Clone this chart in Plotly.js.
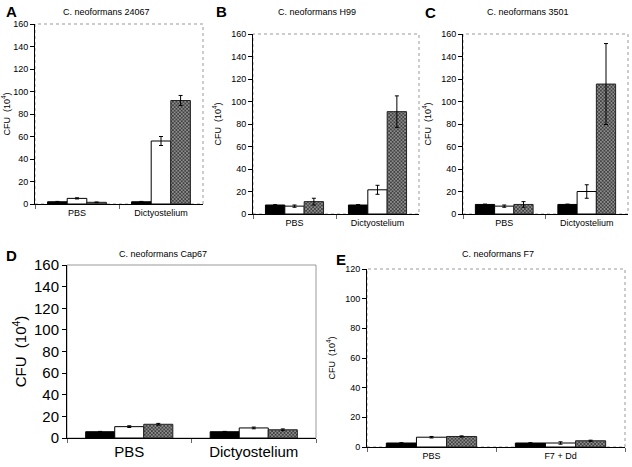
<!DOCTYPE html>
<html><head><meta charset="utf-8">
<script src="https://cdn.plot.ly/plotly-3.0.1.min.js"></script>
<style>html,body{margin:0;padding:0;background:#fff}#chart{width:632px;height:467px}</style>
</head><body><div id="chart"></div>
<script>
// ---- data ----
const categoriesAD = ['PBS', 'Dictyostelium'];
const categoriesE = ['PBS', 'F7 + Dd'];
const panelTitles = ['C. neoformans 24067', 'C. neoformans H99', 'C. neoformans 3501', 'C. neoformans Cap67', 'C. neoformans F7'];
const panelLetters = ['A', 'B', 'C', 'D', 'E'];

const aBlack = [2, 2],     aBlackErr = [0.3, 0.3];
const aWhite = [5, 56],    aWhiteErr = [0.5, 4];
const aHatch = [1.5, 92],  aHatchErr = [0.3, 4.5];

const bBlack = [8, 8],     bBlackErr = [0.3, 0.4];
const bWhite = [7, 21.5],  bWhiteErr = [1, 4];
const bHatch = [11, 91],   bHatchErr = [3, 14];

const cBlack = [8.5, 8.5], cBlackErr = [0.3, 0.3];
const cWhite = [7, 20],    cWhiteErr = [1, 6];
const cHatch = [8.5, 115.5], cHatchErr = [2.5, 36];

const dBlack = [5.8, 5.8], dBlackErr = [0.3, 0.3];
const dWhite = [10.5, 9.3], dWhiteErr = [0.8, 0.8];
const dHatch = [12.7, 7.6], dHatchErr = [0.8, 0.8];

const eBlack = [2.7, 2.7], eBlackErr = [0.2, 0.2];
const eWhite = [6.6, 2.7], eWhiteErr = [0.5, 0.8];
const eHatch = [7.1, 4.2], eHatchErr = [0.4, 0.4];

const yTicksABCD = [0, 20, 40, 60, 80, 100, 120, 140, 160];
const yTicksE = [0, 20, 40, 60, 80, 100, 120];

// ---- layout helpers (pixels -> paper) ----
const W = 632, H = 467;
const px = (a, b) => [a / W, b / W];
const py = (top, bottom) => [1 - bottom / H, 1 - top / H];

const panels = [
  {cats: categoriesAD, k: [aBlack, aBlackErr], w: [aWhite, aWhiteErr], h: [aHatch, aHatchErr], x: px(35, 203), y: py(24, 204), ymax: 160, ticks: yTicksABCD, fs: 9, tfs: 9, titleX: 106, titleY: 12, letX: 4, letY: 12, big: false},
  {cats: categoriesAD, k: [bBlack, bBlackErr], w: [bWhite, bWhiteErr], h: [bHatch, bHatchErr], x: px(253, 419), y: py(34, 214), ymax: 160, ticks: yTicksABCD, fs: 9, tfs: 9, titleX: 317, titleY: 12, letX: 214, letY: 12, big: false},
  {cats: categoriesAD, k: [cBlack, cBlackErr], w: [cWhite, cWhiteErr], h: [cHatch, cHatchErr], x: px(463, 628), y: py(34, 214), ymax: 160, ticks: yTicksABCD, fs: 9, tfs: 9, titleX: 528, titleY: 12, letX: 423, letY: 13, big: false},
  {cats: categoriesAD, k: [dBlack, dBlackErr], w: [dWhite, dWhiteErr], h: [dHatch, dHatchErr], x: px(67, 316), y: py(265, 438), ymax: 160, ticks: yTicksABCD, fs: 15, tfs: 15, titleX: 163, titleY: 254, letX: 4, letY: 255, big: true},
  {cats: categoriesE, k: [eBlack, eBlackErr], w: [eWhite, eWhiteErr], h: [eHatch, eHatchErr], x: px(367, 625), y: py(269, 447), ymax: 120, ticks: yTicksE, fs: 9, tfs: 9, titleX: 498, titleY: 254, letX: 334, letY: 259, big: false}
];

const data = [];
const layout = {
  width: W, height: H,
  margin: {l: 0, r: 0, t: 0, b: 0},
  paper_bgcolor: '#fff', plot_bgcolor: '#fff',
  showlegend: false,
  barmode: 'group', bargap: 0.3, bargroupgap: 0,
  font: {family: 'Liberation Sans, Arial, sans-serif', color: '#000', size: 9},
  annotations: [], shapes: []
};

panels.forEach((p, i) => {
  const n = i === 0 ? '' : String(i + 1);
  const xa = 'x' + n, ya = 'y' + n;
  const errStyle = (arr) => ({type: 'data', array: arr, visible: true, color: '#000', thickness: 1, width: 2});
  data.push({type: 'bar', x: p.cats, y: p.k[0], error_y: errStyle(p.k[1]), xaxis: xa, yaxis: ya,
    marker: {color: '#000', line: {color: '#000', width: 1}}});
  data.push({type: 'bar', x: p.cats, y: p.w[0], error_y: errStyle(p.w[1]), xaxis: xa, yaxis: ya,
    marker: {color: '#fff', line: {color: '#000', width: 1}}});
  data.push({type: 'bar', x: p.cats, y: p.h[0], error_y: errStyle(p.h[1]), xaxis: xa, yaxis: ya,
    marker: {color: '#777', line: {color: '#222', width: 1},
      pattern: {shape: 'x', size: 2.5, solidity: 0.5, fgcolor: '#333', bgcolor: '#8c8c8c', fillmode: 'replace'}}});

  layout['xaxis' + n] = {
    domain: p.x, anchor: ya, type: 'category', range: [-0.5, 1.5],
    showline: true, linecolor: '#000', linewidth: 1, ticks: 'outside', tickson: 'boundaries',
    ticklen: 4, tickcolor: '#666', showgrid: false, zeroline: false,
    tickfont: {size: p.fs, family: 'Liberation Sans, Arial, sans-serif'}, fixedrange: true
  };
  layout['yaxis' + n] = {
    domain: p.y, anchor: xa, range: [0, p.ymax], tickvals: p.ticks, ticktext: p.ticks.map(String),
    showline: true, linecolor: '#000', linewidth: 1, ticks: 'outside', ticklen: 4, tickcolor: '#000',
    showgrid: false, zeroline: false,
    tickfont: {size: p.fs, family: 'Liberation Sans, Arial, sans-serif'},
    title: {text: 'CFU  (10<sup>4</sup>)', font: {size: p.tfs, family: 'Liberation Sans, Arial, sans-serif'}, standoff: p.big ? 3 : 8},
    fixedrange: true
  };
  layout.shapes.push({type: 'rect', xref: xa + ' domain', yref: ya + ' domain', x0: 0, x1: 1, y0: 0, y1: 1,
    line: {color: '#999', width: 1, dash: p.big ? 'solid' : 'dot'}, layer: 'below'});
  layout.annotations.push({text: panelTitles[i], xref: 'paper', yref: 'paper', x: p.titleX / W, y: 1 - p.titleY / H,
    xanchor: 'center', yanchor: 'middle', showarrow: false, font: {size: 9}});
  layout.annotations.push({text: '<b>' + panelLetters[i] + '</b>', xref: 'paper', yref: 'paper', x: p.letX / W, y: 1 - p.letY / H,
    xanchor: 'left', yanchor: 'middle', showarrow: false, font: {size: 15, family: 'Liberation Sans, Arial, sans-serif'}});
});

Plotly.newPlot('chart', data, layout, {staticPlot: true, displayModeBar: false});
</script>
</body></html>
